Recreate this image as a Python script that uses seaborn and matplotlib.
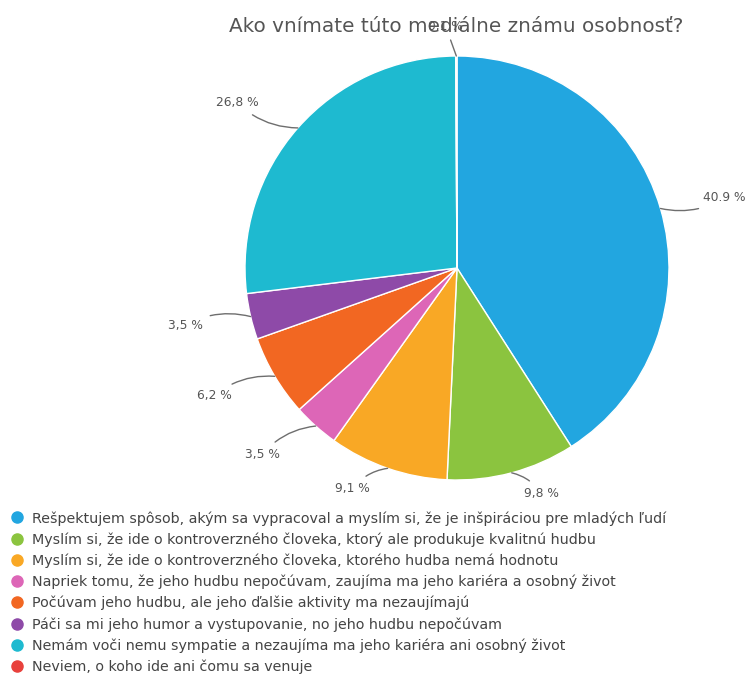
import numpy as np
import pandas as pd
import matplotlib
matplotlib.use("Agg")
import matplotlib.pyplot as plt
import seaborn as sns

title = "Ako vnímate túto mediálne známu osobnosť?"
categories = [
    "Rešpektujem spôsob, akým sa vypracoval a myslím si, že je inšpiráciou pre mladých ľudí",
    "Myslím si, že ide o kontroverzného človeka, ktorý ale produkuje kvalitnú hudbu",
    "Myslím si, že ide o kontroverzného človeka, ktorého hudba nemá hodnotu",
    "Napriek tomu, že jeho hudbu nepočúvam, zaujíma ma jeho kariéra a osobný život",
    "Počúvam jeho hudbu, ale jeho ďalšie aktivity ma nezaujímajú",
    "Páči sa mi jeho humor a vystupovanie, no jeho hudbu nepočúvam",
    "Nemám voči nemu sympatie a nezaujíma ma jeho kariéra ani osobný život",
    "Neviem, o koho ide ani čomu sa venuje",
]
values = [40.9, 9.8, 9.1, 3.5, 6.2, 3.5, 26.8, 0.1]
value_labels = ["40.9 %", "9,8 %", "9,1 %", "3,5 %", "6,2 %", "3,5 %", "26,8 %", "0,1 %"]
colors = ["#22a6e0", "#8bc43f", "#f9a825", "#dd66b7", "#f26722", "#8e4aa8", "#1ebad0", "#e8413c"]

df = pd.DataFrame({"category": categories, "value": values, "label": value_labels})

sns.set_theme(style="white")
plt.rcParams["font.family"] = ["DejaVu Sans"]
palette = sns.color_palette(colors)

fig = plt.figure(figsize=(7.49, 7.0), dpi=100)
L = 1.4
R_px = 212
W, H = 749, 700
cx, cy = 457, H - 268
side = 2 * L * R_px
ax = fig.add_axes([(cx - side / 2) / W, (cy - side / 2) / H, side / W, side / H])

wedges, _ = ax.pie(
    df["value"], colors=palette, startangle=90, counterclock=False,
    radius=1.0, wedgeprops=dict(edgecolor="white", linewidth=1.0),
)
ax.set_xlim(-L, L)
ax.set_ylim(-L, L)
ax.set_aspect("equal")
ax.axis("off")

cum = np.cumsum([0] + list(df["value"]))
total = cum[-1]
for i, row in df.iterrows():
    mid = 90 - (cum[i] + row["value"] / 2) / total * 360
    a = np.deg2rad(mid)
    c, s = np.cos(a), np.sin(a)
    if abs(c) < 0.05:
        lr = 1.14
        tx, ty = lr * c - 0.05, lr * s
        ha = "center"
        rad = 0.0
    else:
        lr = 1.1 if abs(s) > 0.9 else 1.18
        tx, ty = lr * c, lr * s
        if c > 0:
            ha = "left"
            tx += 0.03
        else:
            ha = "right"
            tx -= 0.05
        rad = -0.2 if (c * s) > 0 else 0.2
    ax.annotate(
        row["label"], xy=(c, s), xytext=(tx, ty), ha=ha, va="center",
        fontsize=8.8, color="#555555", annotation_clip=False,
        arrowprops=dict(arrowstyle="-", color="#6e6e6e", lw=1.0,
                        connectionstyle=f"arc3,rad={rad}", shrinkA=3, shrinkB=0),
    )

fig.text(456 / W, 1 - 27 / H, title, ha="center", va="center",
         fontsize=14.4, color="#555555")

handles = [plt.Line2D([0], [0], marker="o", linestyle="", markersize=8,
                      markerfacecolor=palette[i], markeredgecolor=palette[i])
           for i in range(len(categories))]
fig.legend(handles, df["category"], loc="upper left",
           bbox_to_anchor=(0.013, 1 - 511 / H), frameon=False,
           fontsize=10.3, labelcolor="#444444", handletextpad=0.55,
           labelspacing=0.47, borderaxespad=0.0, handlelength=1.0,
           borderpad=0.0)

fig.savefig("out.png", dpi=100, facecolor="white")
